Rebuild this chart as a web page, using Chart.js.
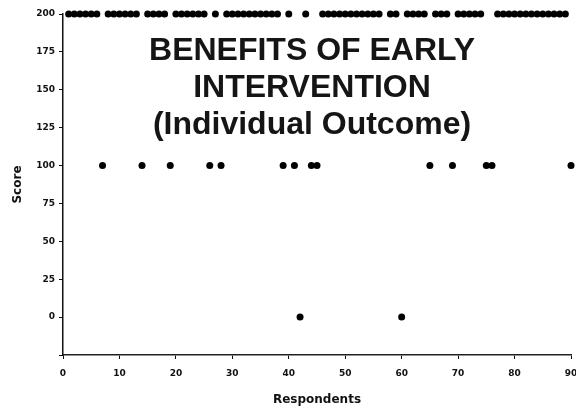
<!DOCTYPE html>
<html>
<head>
<meta charset="utf-8">
<script src="https://cdn.jsdelivr.net/npm/chart.js@4.4.1/dist/chart.umd.min.js"></script>
<style>
  html, body { margin: 0; padding: 0; background: #fff; }
  #wrap { position: relative; width: 576px; height: 410px; overflow: hidden; }
  #title {
    position: absolute; left: 112px; width: 400px; top: 31px;
    text-align: center; font-family: "Liberation Sans", Arial, sans-serif;
    font-weight: bold; font-size: 32px; line-height: 37px; color: #151515;
    pointer-events: none;
  }
</style>
</head>
<body>
<div id="wrap">
  <canvas id="c"></canvas>
  <div id="title">BENEFITS OF EARLY<br>INTERVENTION<br>(Individual Outcome)</div>
</div>
<script>
// Respondent numbers and their scores (null = no visible mark)
const respondents = [
  1,2,3,4,5,6,7,8,9,10,11,12,13,14,15,16,17,18,19,20,
  21,22,23,24,25,26,27,28,29,30,31,32,33,34,35,36,37,38,39,40,
  41,42,43,44,45,46,47,48,49,50,51,52,53,54,55,56,57,58,59,60,
  61,62,63,64,65,66,67,68,69,70,71,72,73,74,75,76,77,78,79,80,
  81,82,83,84,85,86,87,88,89,90
];
const scores = [
  200,200,200,200,200,200,100,200,200,200,200,200,200,100,200,200,200,200,100,200,
  200,200,200,200,200,100,200,100,200,200,200,200,200,200,200,200,200,200,100,200,
  100,0,200,100,100,200,200,200,200,200,200,200,200,200,200,200,null,200,200,0,
  200,200,200,200,100,200,200,200,100,200,200,200,200,200,100,100,200,200,200,200,
  200,200,200,200,200,200,200,200,200,100
];
const xTicks = [0,10,20,30,40,50,60,70,80,90];
const yTicks = [-25,0,25,50,75,100,125,150,175,200];
const xTitle = "Respondents";
const yTitle = "Score";

const points = respondents.map((r, i) => ({x: r, y: scores[i]})).filter(p => p.y !== null);

const tickFont = {family: "'DejaVu Sans', sans-serif", size: 9, weight: 'bold'};
const titleFont = {family: "'DejaVu Sans', sans-serif", size: 12, weight: 'bold'};

new Chart(document.getElementById('c'), {
  type: 'scatter',
  data: {
    datasets: [{
      data: points,
      backgroundColor: '#000',
      borderWidth: 0,
      pointRadius: 3.5,
      pointHoverRadius: 3.5,
      clip: false
    }]
  },
  options: {
    responsive: true,
    maintainAspectRatio: false,
    animation: false,
    devicePixelRatio: 1,
    layout: { padding: { top: 14, right: 5, left: 4, bottom: 0 } },
    plugins: { legend: { display: false }, tooltip: { enabled: false }, title: { display: false } },
    scales: {
      x: {
        type: 'linear', min: 0, max: 90,
        afterBuildTicks: s => { s.ticks = xTicks.map(v => ({value: v})); },
        afterFit: s => { s.height = 55; s.paddingLeft = 0; s.paddingRight = 0; },
        grid: { drawOnChartArea: false, drawTicks: true, tickLength: 4, color: '#111' },
        border: { color: '#222', width: 1.5 },
        ticks: { font: tickFont, color: '#111', padding: 9, maxRotation: 0 },
        title: { display: true, text: xTitle, font: titleFont, color: '#111', padding: { top: 0, bottom: 3 } }
      },
      y: {
        type: 'linear', min: -25, max: 200,
        afterBuildTicks: s => { s.ticks = yTicks.map(v => ({value: v})); },
        afterFit: s => { s.width = 59; },
        grid: { drawOnChartArea: false, drawTicks: true, tickLength: 4, color: '#111' },
        border: { color: '#111', width: 1.5 },
        ticks: { font: tickFont, color: '#111', padding: 4, callback: v => (v < 0 ? '' : v) },
        title: { display: true, text: yTitle, font: titleFont, color: '#111', padding: { top: 7, bottom: 0 } }
      }
    }
  }
});
</script>
</body>
</html>
